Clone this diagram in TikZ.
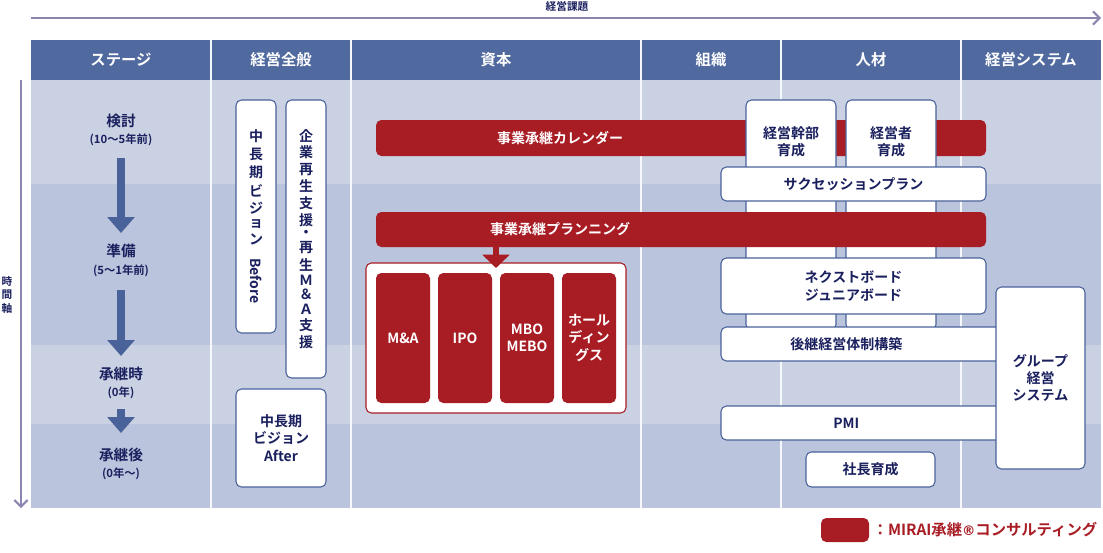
\documentclass[tikz,border=0pt]{standalone}
\usepackage{fontspec}
\setmainfont{Noto Sans CJK JP}[BoldFont={Noto Sans CJK JP Bold}]
\usetikzlibrary{arrows.meta}
\definecolor{hdr}{HTML}{50699E}
\definecolor{bandA}{HTML}{CAD1E2}
\definecolor{bandB}{HTML}{BAC4DC}
\definecolor{navy}{HTML}{1A1F5E}
\definecolor{mred}{HTML}{A81C24}
\definecolor{axis}{HTML}{8A86B0}
\definecolor{bord}{HTML}{4A629A}
\newcommand{\vst}[1]{\shortstack{#1}}
\begin{document}
\begin{tikzpicture}[x=0.75pt,y=-0.75pt,font=\bfseries,
  wbox/.style={draw=bord,fill=white,rounded corners=4pt,line width=0.8pt,text=navy,font=\bfseries\fontsize{10.5}{13}\selectfont,align=center,inner sep=0},
  rbox/.style={fill=mred,rounded corners=4pt,text=white,font=\bfseries\fontsize{10.5}{13}\selectfont,align=center,inner sep=0},
  htxt/.style={text=white,font=\bfseries\fontsize{11.5}{14}\selectfont},
  stg/.style={text=navy,font=\bfseries\fontsize{11}{13}\selectfont,align=center},
  stgs/.style={text=navy,font=\bfseries\fontsize{8.5}{10}\selectfont},
  sarr/.style={draw=bord,line width=6pt,-{Triangle[width=20pt,length=12pt]}}]
\useasboundingbox (0,0) rectangle (1103,553);
% top axis
\coordinate (ta) at (31,18); \coordinate (tb) at (1101,18);
\draw[axis,line width=1.5pt,-{Straight Barb[length=5pt]}] (ta) -- (tb);
\node[text=navy,font=\bfseries\fontsize{8}{9}\selectfont] (tl) at (567,6) {経営課題};
% left axis
\coordinate (la) at (21,80); \coordinate (lb) at (21,508);
\draw[axis,line width=1.5pt,-{Straight Barb[length=5pt]}] (la) -- (lb);
\node[text=navy,font=\bfseries\fontsize{8}{9}\selectfont] (ll) at (7,295) {\vst{時\\間\\軸}};
% bands
\fill[hdr] (31,40) rectangle (1101,80);
\fill[bandA] (31,80) rectangle (1101,184);
\fill[bandB] (31,184) rectangle (1101,345);
\fill[bandA] (31,345) rectangle (1101,424);
\fill[bandB] (31,424) rectangle (1101,508);
\foreach \x in {211,351,641,781,961} {\draw[white!85!bandA,line width=1.5pt] (\x,40) -- (\x,508);}
% headers
\node[htxt] (h1) at (121,60) {ステージ};
\node[htxt] (h2) at (281,60) {経営全般};
\node[htxt] (h3) at (496,60) {資本};
\node[htxt] (h4) at (711,60) {組織};
\node[htxt] (h5) at (871,60) {人材};
\node[htxt] (h6) at (1031,60) {経営システム};
% stages
\node[stg] (s1) at (121,121) {検討};
\node[stgs] (s1b) at (121,140) {(10〜5年前)};
\node[stg] (s2) at (121,251) {準備};
\node[stgs] (s2b) at (121,271) {(5〜1年前)};
\node[stg] (s3) at (121,374) {承継時};
\node[stgs] (s3b) at (121,393) {(0年)};
\node[stg] (s4) at (121,455) {承継後};
\node[stgs] (s4b) at (121,474) {(0年〜)};
\coordinate (a1) at (121,158); \coordinate (a1e) at (121,233);
\coordinate (a2) at (121,290); \coordinate (a2e) at (121,356);
\coordinate (a3) at (121,409); \coordinate (a3e) at (121,433);
\draw[sarr] (a1) -- (a1e);
\draw[sarr] (a2) -- (a2e);
\draw[sarr] (a3) -- (a3e);
% general
\node[wbox,minimum width=30pt,minimum height=174.75pt] (b1) at (256,216.5) {\vst{中\\[1pt]長\\[1pt]期\\[1pt]ビ\\[1pt]ジ\\[1pt]ョ\\[1pt]ン}\\[-3pt]\rotatebox{-90}{Before}};
\node[wbox,minimum width=30pt,minimum height=208.5pt] (b2) at (306,239) {\vst{企\\業\\再\\生\\支\\援\\・\\再\\生\\Ｍ\\＆\\Ａ\\支\\援}};
\node[wbox,minimum width=67.5pt,minimum height=73.5pt] (b3) at (281,438) {中長期\\ビジョン\\After};
% calendar bar, under people boxes
\node[rbox,minimum width=457.5pt,minimum height=27pt] (cal) at (681,138) {};
\node[text=white,font=\bfseries\fontsize{10.5}{13}\selectfont] (calt) at (560,138) {事業承継カレンダー};
\node[wbox,minimum width=67.5pt,minimum height=172.5pt] (p1) at (791,215) {};
\node[text=navy,font=\bfseries\fontsize{10.5}{13}\selectfont,align=center] (p1t) at (791,142) {経営幹部\\育成};
\node[wbox,minimum width=67.5pt,minimum height=172.5pt] (p2) at (891,215) {};
\node[text=navy,font=\bfseries\fontsize{10.5}{13}\selectfont,align=center] (p2t) at (891,142) {経営者\\育成};
\node[wbox,minimum width=198.75pt,minimum height=25.5pt] (succ) at (853.5,184) {サクセッションプラン};
\node[rbox,minimum width=457.5pt,minimum height=26.25pt] (plan) at (681,229.5) {};
\node[text=white,font=\bfseries\fontsize{10.5}{13}\selectfont] (plant) at (560,229.5) {事業承継プランニング};
\node[wbox,minimum width=198.75pt,minimum height=42pt] (next) at (853.5,286) {ネクストボード\\ジュニアボード};
\node[wbox,minimum width=210pt,minimum height=25.5pt,text width=198pt] (kk) at (861,344) {\hspace*{-22pt}後継経営体制構築};
\node[wbox,minimum width=210pt,minimum height=25.5pt,text width=198pt] (pmi) at (861,423) {\hspace*{-22pt}PMI};
\node[wbox,minimum width=96.75pt,minimum height=26.25pt] (sc) at (870.5,469.5) {社長育成};
\node[wbox,minimum width=66.75pt,minimum height=136.5pt] (grp) at (1040.5,378) {グループ\\経営\\システム};
% capital
\node[draw=mred,fill=white,rounded corners=4pt,line width=0.8pt,minimum width=195pt,minimum height=112.5pt] (cap) at (496,338) {};
\coordinate (da) at (496,247); \coordinate (db) at (496,268);
\draw[mred,line width=5pt,-{Triangle[width=20pt,length=10pt]}] (da) -- (db);
\node[rbox,minimum width=40.5pt,minimum height=97.5pt] (c1) at (403,338) {M\&A};
\node[rbox,minimum width=40.5pt,minimum height=97.5pt] (c2) at (465,338) {IPO};
\node[rbox,minimum width=40.5pt,minimum height=97.5pt] (c3) at (527,338) {MBO\\MEBO};
\node[rbox,minimum width=40.5pt,minimum height=97.5pt] (c4) at (589,338) {ホール\\ディン\\グス};
% legend
\node[rbox,minimum width=36pt,minimum height=18pt] (lg) at (845,530) {};
\node[text=mred,font=\bfseries\fontsize{11.5}{13}\selectfont,anchor=west] (lgt) at (868,530) {：MIRAI承継{\fontspec{DejaVu Sans}\fontsize{10}{12}\selectfont ®}コンサルティング};
\end{tikzpicture}
\end{document}
